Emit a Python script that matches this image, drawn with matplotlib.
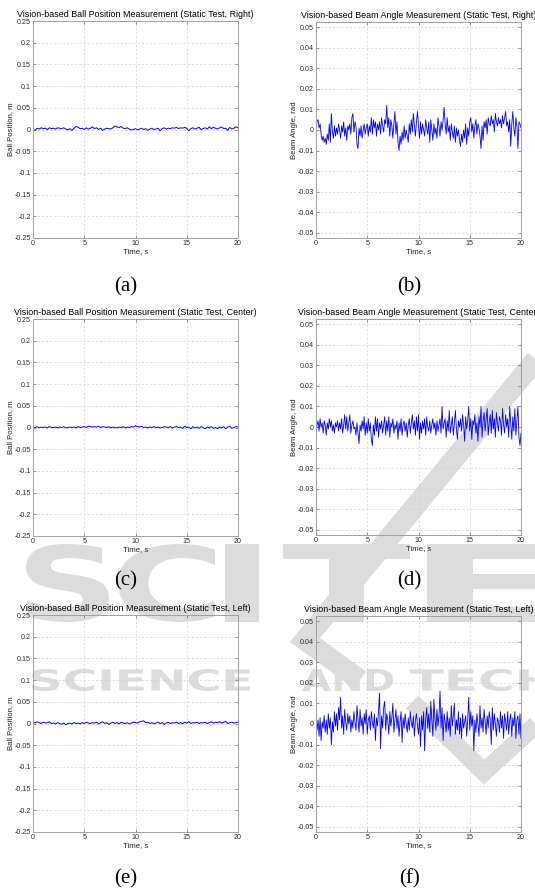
import numpy as np
import matplotlib.pyplot as plt
from matplotlib.font_manager import FontProperties
from matplotlib.textpath import TextPath
from matplotlib.patches import PathPatch
from matplotlib.transforms import Affine2D
from matplotlib.ticker import FormatStrFormatter

# Posicao da bola em mm, uma amostra a cada 0.2 s (0 a 20 s)
pos_direita = [0, -2, 3, 1, 4, 2, 3, 0, 4, 2,
               3, 1, 4, 3, 2, 4, 1, -1, 2, -2,
               3, 7, 5, 2, 3, 0, 4, 1, 3, 6,
               2, 4, 0, 3, -2, 1, 3, 2, 1, 4,
               8, 6, 4, 7, 3, 2, 4, 1, -1, 0,
               2, -1, 1, 3, 0, 2, -2, 1, 3, 0,
               1, 3, -3, 2, 4, 1, 3, 2, 4, 3,
               5, 2, 4, 3, 5, 3, -3, 2, 4, 1,
               3, 5, 0, 2, 4, 1, 6, 2, 5, 3,
               1, 4, 6, 2, 3, -2, 5, 1, 3, 6,
               4]
pos_centro = [1, 0, 2, -1, 1, 0, 1, -1, 2, 0,
              0, 1, -1, 1, 0, 2, -1, 0, 1, 0,
              1, -1, 2, 0, 1, 2, 0, 3, 2, 1,
              2, 1, 3, 0, 2, 1, 0, 2, -1, 1,
              0, -1, 1, 0, 2, -1, 1, 0, 2, 1,
              4, 2, 1, 3, 0, 1, -1, 1, 0, 2,
              0, 1, -1, 0, 2, 1, 0, 2, -1, 1,
              2, 0, 1, -2, 3, 0, 1, -3, 2, -1,
              1, -2, 2, 0, -3, 1, -1, 2, -2, 0,
              -3, 1, -1, 2, -3, 1, 3, -2, 0, 2,
              1]
pos_esquerda = [3, 1, 4, 2, 0, 3, 1, 2, 4, 0,
                1, -1, 2, 0, -2, 1, -3, 0, 1, -1,
                2, 0, 1, -1, 2, 0, 3, 1, 0, 2,
                1, 3, -1, 2, 4, 0, 2, -2, 1, 3,
                0, 2, -1, 3, 1, 0, 2, -1, 1, 3,
                2, 1, 4, 5, 6, 2, 3, 0, 2, -1,
                1, 3, 0, 2, -2, 1, 3, 0, 2, 1,
                3, 0, 2, -1, 3, 1, 4, 0, 2, 1,
                3, 0, 2, 1, 3, 0, 2, 4, 1, 3,
                2, 4, 1, 3, 5, 0, 2, 3, 1, 2,
                3]

# Angulo da viga em mrad, uma amostra a cada 0.1 s (0 a 20 s)
ang_direita = [2, 4, 5, 1, 3, -2, -5, -3, -6, -4,
               -7, -2, -5, 3, -6, 8, -1, -4, 2, -3,
               1, -2, 3, 0, -4, 2, -1, 4, -3, 1,
               -5, 2, 0, 3, -2, 6, 8, -1, 4, 2,
               -7, -9, 1, -3, 2, -4, 0, 3, -2, 1,
               3, -3, 2, -1, 6, -2, 5, 1, 4, -3,
               3, 0, 4, -2, 6, 2, -1, 5, 3, 12,
               1, 6, -3, 5, 2, -4, 3, 9, -2, 4,
               -6, -10, -3, -7, -1, -5, 2, -4, 0, -3,
               -6, 3, -2, 5, -1, 8, 2, -3, 4, 9,
               2, -4, 4, -2, 3, 0, -3, 5, 1, -2,
               4, -6, 5, 0, -5, 3, -2, 1, -4, 6,
               2, -3, 4, 0, 5, 11, 3, -2, 6, -1,
               2, -5, 3, -1, -4, 2, -6, 1, -3, 0,
               -5, -8, -2, -6, 0, -4, 3, -7, 1, -3,
               4, 6, -1, 3, -4, 2, 5, -2, 3, 1,
               -3, -9, 2, -5, 4, 1, 5, -2, 6, 3,
               2, 7, 3, 5, -1, 8, 4, 2, 6, 3,
               5, 1, 7, 3, 6, 9, 2, 4, -1, 5,
               -8, 3, 9, 1, -3, 6, 2, -9, 4, 3,
               1]
ang_centro = [-5, 1, 3, -2, 4, 0, 2, -3, 3, 1,
              -4, 2, -1, 4, 0, 3, -2, 1, -3, 2,
              0, 3, -2, 2, -1, 4, -3, 1, 6, -1,
              5, -2, 2, 6, -3, 1, 3, -1, 0, -4,
              2, -3, -8, 1, -2, 3, -1, 5, -4, 2,
              -3, 4, -2, 2, -6, -9, 1, -4, 5, -2,
              4, -5, 2, -1, 3, -3, 1, 5, -4, 3,
              -2, 5, -5, 2, 0, 4, -3, 1, -1, 3,
              -6, 2, -2, 4, -4, 1, 3, -2, 2, -5,
              1, 4, -3, 2, 6, -1, 3, -4, 5, -2,
              6, -6, 2, -3, 3, -1, 4, -4, 5, 0,
              -2, 3, -3, 1, 4, -1, 2, -4, 3, -2,
              1, 4, -3, 10, -1, 2, 4, -5, 3, -2,
              8, -3, 1, 5, -4, 2, 8, -1, -6, 3,
              0, 4, -2, 6, 1, -7, 5, -1, 3, 10,
              -2, 4, -6, 3, 1, 6, -3, 2, -7, 5,
              0, 10, -5, 3, 7, -2, 4, 9, -4, 2,
              6, -3, 8, -1, 4, -5, 7, 2, -2, 5,
              3, -4, 9, 1, -3, 6, 0, 4, -5, 10,
              2, -6, 5, -2, 9, -4, 3, 10, -5, -9,
              -3]
ang_esquerda = [4, -3, 2, -6, 3, -8, 1, -2, 4, -4,
                2, -5, 5, -2, 3, -10, 1, -4, 6, -1,
                5, -3, 8, 2, 13, -2, 4, -5, 7, 1,
                -3, 5, 0, 4, -4, 2, -2, 6, 1, -3,
                9, 2, -4, 7, -1, 3, -5, 5, 0, 7,
                -5, 2, 4, -3, 6, 1, -2, 5, -8, 3,
                -1, 6, 15, -12, 4, -2, 8, 11, -3, 5,
                2, -5, 6, -1, 3, 10, -4, 2, 7, -2,
                4, -6, 1, 6, -9, 3, -2, 5, 0, -4,
                3, -3, 6, 1, -2, 4, -6, 2, 5, -1,
                -5, 3, -11, 4, -3, 6, -13, 2, 8, -2,
                5, -4, 11, 2, -6, 12, 3, -3, 7, -1,
                4, 16, -2, 8, -8, 5, 1, -4, 6, -3,
                3, -6, 9, -1, 4, 10, -5, 2, -3, 6,
                -5, 3, -7, 5, -2, 1, 4, -6, 2, 13,
                -3, 6, -1, 4, -13, 2, -4, 5, 0, -6,
                9, -2, 3, -4, 7, 1, -5, 4, -2, 6,
                2, -10, 8, -3, 5, 0, -6, 3, 1, -4,
                6, -2, 4, -7, 5, 1, -3, 6, -5, 2,
                5, -6, 3, -1, 6, -7, 2, 4, -5, 5,
                -7]

titulos_pos = ['Vision-based Ball Position Measurement (Static Test, Right)',
               'Vision-based Ball Position Measurement (Static Test, Center)',
               'Vision-based Ball Position Measurement (Static Test, Left)']
titulos_ang = ['Vision-based Beam Angle Measurement (Static Test, Right)',
               'Vision-based Beam Angle Measurement (Static Test, Center)',
               'Vision-based Beam Angle Measurement (Static Test, Left)']
legendas_esq = ['(a)', '(c)', '(e)']
legendas_dir = ['(b)', '(d)', '(f)']
ticks_pos = [-0.25, -0.2, -0.15, -0.1, -0.05, 0, 0.05, 0.1, 0.15, 0.2, 0.25]
ticks_ang = [-0.05, -0.04, -0.03, -0.02, -0.01, 0, 0.01, 0.02, 0.03, 0.04, 0.05]
ticks_tempo = [0, 5, 10, 15, 20]

W, H = 535, 894
plt.rcParams['font.family'] = 'Liberation Sans'

fig = plt.figure(figsize=(W / 100, H / 100), dpi=100)

# Fundo com a marca d'agua, em coordenadas de pixel (y para baixo)
fundo = fig.add_axes([0, 0, 1, 1], zorder=-1)
fundo.set_xlim(0, W)
fundo.set_ylim(H, 0)
fundo.axis('off')
cinza = '#dcdcdc'


def texto_na_caixa(s, x0, x1, y0, y1):
    fp = FontProperties(family='DejaVu Sans', weight='bold')
    tp = TextPath((0, 0), s, size=10, prop=fp)
    bb = tp.get_extents()
    tr = (Affine2D().translate(-bb.x0, -bb.y0)
          .scale((x1 - x0) / bb.width, -(y1 - y0) / bb.height)
          .translate(x0, y1))
    fundo.add_patch(PathPatch(tr.transform_path(tp), fc=cinza, ec='none'))


# barra diagonal e o "V" do logotipo
fundo.plot([548, 305, 360], [345, 640, 680], color=cinza, lw=15,
           solid_capstyle='butt', solid_joinstyle='miter')
fundo.plot([412, 484, 550], [702, 772, 712], color=cinza, lw=13,
           solid_capstyle='butt', solid_joinstyle='miter')
for letra, x0, x1 in [('S', 26, 109), ('C', 118, 215), ('I', 225, 259),
                      ('T', 283, 410), ('E', 427, 555)]:
    texto_na_caixa(letra, x0, x1, 544, 622)
texto_na_caixa('SCIENCE', 32, 250, 669, 691)
texto_na_caixa('AND', 302, 393, 669, 691)
texto_na_caixa('TECHNOLOGY', 410, 790, 669, 691)


def estilo(ax, titulo, ylabel, ticks):
    ax.set_xlim(0, 20)
    ax.set_xticks(ticks_tempo)
    ax.set_yticks(ticks)
    ax.xaxis.set_major_formatter(FormatStrFormatter('%g'))
    ax.yaxis.set_major_formatter(FormatStrFormatter('%g'))
    ax.tick_params(direction='in', length=2, width=0.5, color='#707070',
                   labelsize=5.1, labelcolor='#2a2a2a', pad=1.5,
                   top=True, right=True)
    ax.grid(True, color='#d0d0d0', ls=(0, (3, 3)), lw=0.5)
    for sp in ax.spines.values():
        sp.set_color('#a0a0a0')
        sp.set_linewidth(0.7)
    ax.set_title(titulo, fontsize=6.4, pad=3)
    ax.set_xlabel('Time, s', fontsize=5.6, labelpad=0.5, color='#222222')
    ax.set_ylabel(ylabel, fontsize=5.6, labelpad=0, color='#222222')


topos_esq = [21, 319, 615]
topos_dir = [22, 319, 616]
y_legenda = [287, 581, 879]
posicoes = [pos_direita, pos_centro, pos_esquerda]
angulos = [ang_direita, ang_centro, ang_esquerda]

for i in range(3):
    # grafico da posicao da bola (coluna da esquerda)
    ax = fig.add_axes([33 / W, 1 - (topos_esq[i] + 217) / H, 205 / W, 217 / H],
                      facecolor='none')
    t = np.linspace(0, 20, len(posicoes[i]))
    ax.plot(t, np.array(posicoes[i]) / 1000, color='#0000ff', lw=0.7)
    ax.set_ylim(-0.25, 0.25)
    estilo(ax, titulos_pos[i], 'Ball Position, m', ticks_pos)

    # grafico do angulo da viga (coluna da direita)
    ax2 = fig.add_axes([316 / W, 1 - (topos_dir[i] + 216) / H, 205 / W, 216 / H],
                       facecolor='none')
    t2 = np.linspace(0, 20, len(angulos[i]))
    ax2.plot(t2, np.array(angulos[i]) / 1000, color='#0000ff', lw=0.6)
    ax2.set_ylim(-0.0525, 0.0525)
    estilo(ax2, titulos_ang[i], 'Beam Angle, rad', ticks_ang)

    fundo.text(126, y_legenda[i], legendas_esq[i], family='Liberation Serif',
               fontsize=15, ha='center', va='center')
    fundo.text(409, y_legenda[i], legendas_dir[i], family='Liberation Serif',
               fontsize=15, ha='center', va='center')

fig.savefig('out.png', dpi=100)
